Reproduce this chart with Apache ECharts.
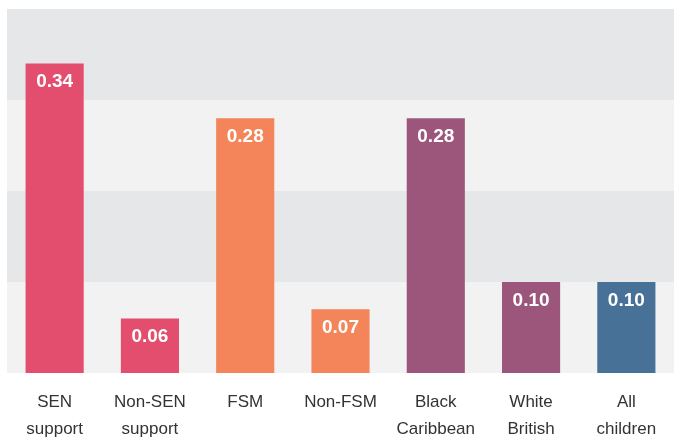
<!DOCTYPE html>
<html><head><meta charset="utf-8">
<script src="https://cdn.jsdelivr.net/npm/echarts@6/dist/echarts.min.js"></script>
<style>html,body{margin:0;padding:0;background:#fff}#c{width:674px;height:439px}</style>
</head><body><div id="c"></div>
<script>
const categories = ['SEN\nsupport', 'Non-SEN\nsupport', 'FSM', 'Non-FSM', 'Black\nCaribbean', 'White\nBritish', 'All\nchildren'];
const values = [0.34, 0.06, 0.28, 0.07, 0.28, 0.10, 0.10];
const barColors = ['#e34e6e', '#e34e6e', '#f4845a', '#f4845a', '#9d567b', '#9d567b', '#477197'];

const chart = echarts.init(document.getElementById('c'), null, {renderer: 'canvas'});
chart.setOption({
  animation: false,
  grid: {left: 7, right: 0, top: 9, bottom: 66, containLabel: false, outerBoundsMode: 'none'},
  xAxis: {
    type: 'category', data: categories,
    axisLine: {show: false}, axisTick: {show: false},
    axisLabel: {color: '#333', fontSize: 17, lineHeight: 27, margin: 16, fontFamily: 'Liberation Sans, Arial, sans-serif', interval: 0}
  },
  yAxis: {
    type: 'value', min: 0, max: 0.4, interval: 0.1,
    axisLabel: {show: false}, axisLine: {show: false}, axisTick: {show: false},
    splitLine: {show: false},
    splitArea: {show: true, areaStyle: {color: ['#f2f2f2', '#e6e7e9']}}
  },
  series: [{
    type: 'bar', barWidth: '61%',
    data: values.map((v, i) => ({value: v, itemStyle: {color: barColors[i]}})),
    label: {
      show: true, position: 'insideTop', distance: 9, color: '#fff',
      fontSize: 19, fontWeight: 'bold', fontFamily: 'Liberation Sans, Arial, sans-serif',
      formatter: p => p.value.toFixed(2)
    }
  }]
});
</script></body></html>
